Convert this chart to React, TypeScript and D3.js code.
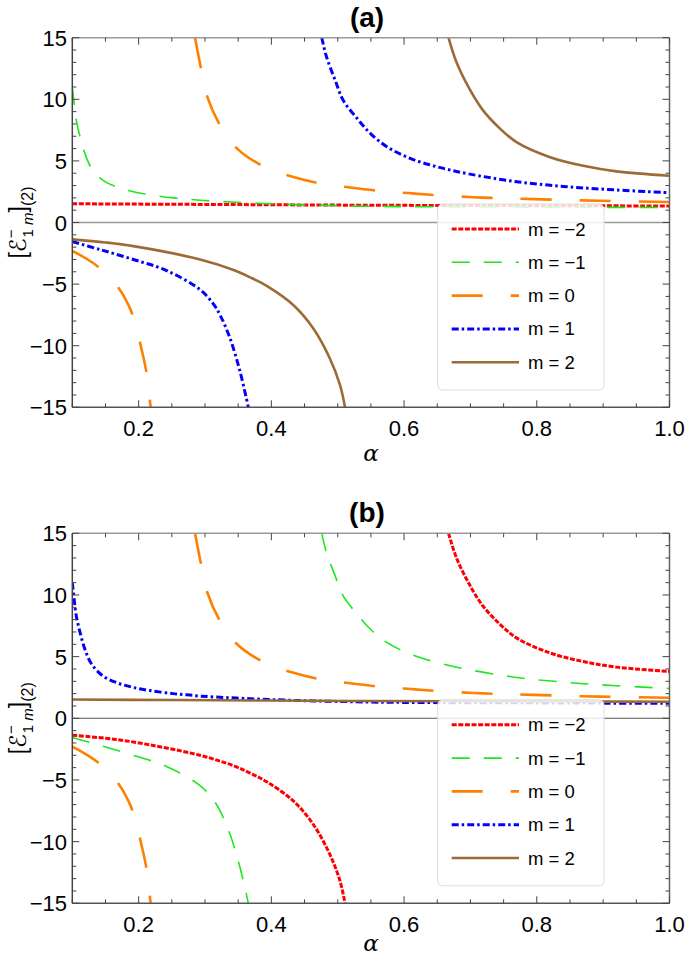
import React from "react";
import * as d3 from "d3";

// ---------- data ----------
// nearly flat curve
const alphaFlat = [0.1, 0.25, 0.4, 0.55, 0.7, 0.85, 1.0];
const valFlat = [1.52, 1.48, 1.44, 1.4, 1.38, 1.36, 1.34];

// steep curve with pole just left of alpha = 0.1
const alphaSteep = [0.1, 0.103, 0.106, 0.112, 0.119, 0.129, 0.147, 0.169, 0.192, 0.217, 0.252, 0.273, 0.293, 0.318, 0.348, 0.398, 0.448, 0.498, 0.549, 0.599, 0.7, 0.8, 0.9, 1.0];
const valSteep = [11.0, 9.55, 8.3, 6.9, 5.6, 4.4, 3.4, 2.85, 2.5, 2.25, 2.0, 1.9, 1.8, 1.72, 1.64, 1.52, 1.43, 1.37, 1.32, 1.29, 1.26, 1.25, 1.23, 1.22];

// m = 0 curve (orange), two branches
const alphaMidNeg = [0.1, 0.12, 0.139, 0.169, 0.191, 0.202, 0.212, 0.218];
const valMidNeg = [-2.3, -2.9, -3.59, -5.26, -7.5, -9.75, -12.24, -15];
const alphaMidPos = [0.285, 0.294, 0.3035, 0.323, 0.348, 0.387, 0.428, 0.473, 0.516, 0.564, 0.606, 0.652, 0.72, 0.795, 0.895, 1.0];
const valMidPos = [15, 12.5, 10.2, 7.86, 6.02, 4.59, 3.77, 3.18, 2.86, 2.56, 2.39, 2.2, 2.02, 1.9, 1.76, 1.67];

// curve with gap around alpha ~ 0.42
const alphaNearNeg = [0.1, 0.142, 0.192, 0.242, 0.2925, 0.3125, 0.3226, 0.3377, 0.3528, 0.3653];
const valNearNeg = [-1.55, -2.2, -3.0, -3.9, -5.45, -6.6, -7.5, -9.4, -12.1, -15];
const alphaNearPos = [0.476, 0.483, 0.496, 0.508, 0.529, 0.549, 0.574, 0.609, 0.649, 0.697, 0.77, 0.845, 0.92, 1.0];
const valNearPos = [15, 13.46, 11.57, 9.94, 8.46, 7.24, 6.15, 5.21, 4.53, 3.95, 3.31, 2.91, 2.64, 2.42];

// curve with gap around alpha ~ 0.59
const alphaFarNeg = [0.1, 0.15, 0.192, 0.2925, 0.343, 0.368, 0.393, 0.433, 0.463, 0.488, 0.5035, 0.511];
const valFarNeg = [-1.37, -1.62, -1.92, -3.0, -3.85, -4.45, -5.15, -6.7, -8.59, -11.02, -13.2, -15];
const alphaFarPos = [0.667, 0.679, 0.699, 0.719, 0.745, 0.77, 0.82, 0.87, 0.92, 1.0];
const valFarPos = [15, 13.0, 10.8, 9.1, 7.6, 6.5, 5.3, 4.6, 4.15, 3.8];

const mLabels = ["m = \u22122", "m = \u22121", "m = 0", "m = 1", "m = 2"];
const xTickValues = [0.2, 0.4, 0.6, 0.8, 1.0];
const xTickLabels = ["0.2", "0.4", "0.6", "0.8", "1.0"];
const yTickValues = [-15, -10, -5, 0, 5, 10, 15];
const yTickLabels = ["\u221215", "\u221210", "\u22125", "0", "5", "10", "15"];
const panelTitles = ["(a)", "(b)"];

type Branch = { a: number[]; v: number[] };
const curveFlat: Branch[] = [{ a: alphaFlat, v: valFlat }];
const curveSteep: Branch[] = [{ a: alphaSteep, v: valSteep }];
const curveMid: Branch[] = [{ a: alphaMidNeg, v: valMidNeg }, { a: alphaMidPos, v: valMidPos }];
const curveNear: Branch[] = [{ a: alphaNearNeg, v: valNearNeg }, { a: alphaNearPos, v: valNearPos }];
const curveFar: Branch[] = [{ a: alphaFarNeg, v: valFarNeg }, { a: alphaFarPos, v: valFarPos }];

// panel (a): m = -2..2 ; panel (b): m -> -m
const panelACurves = [curveFlat, curveSteep, curveMid, curveNear, curveFar];
const panelBCurves = [curveFar, curveNear, curveMid, curveSteep, curveFlat];

const styles = [
  { color: "#ff0000", width: 3, dash: "5,1.6" },
  { color: "#1ee61e", width: 1.6, dash: "18,14" },
  { color: "#ff8000", width: 2.6, dash: "31,28" },
  { color: "#0000ff", width: 3, dash: "7,3,2.5,3" },
  { color: "#9c6a35", width: 2.6, dash: "none" },
];

const FONT = "'Liberation Sans', Arial, sans-serif";
const LEFT = 72.3;
const RIGHT = 669.5;

type PanelProps = {
  top: number;
  bottom: number;
  curves: Branch[][];
  title: string;
  id: string;
  zeroColor: string;
  zeroWidth: number;
  alphaBaseline: number;
};

function Panel({ top, bottom, curves, title, id, zeroColor, zeroWidth, alphaBaseline }: PanelProps) {
  const x = d3.scaleLinear().domain([0.1, 1.0]).range([LEFT, RIGHT]);
  const y = d3.scaleLinear().domain([-15, 15]).range([bottom, top]);
  const line = d3
    .line<[number, number]>()
    .x((d) => x(d[0]))
    .y((d) => y(d[1]))
    .curve(d3.curveCatmullRom.alpha(0.5));

  const xMinor = d3.range(0.1, 1.0001, 0.05).map((v) => +v.toFixed(2));
  const yMinor = d3.range(-15, 15.001, 1);
  const isMajorX = (v: number) => Math.abs(v * 5 - Math.round(v * 5)) < 1e-6;
  const isMajorY = (v: number) => v % 5 === 0;

  const legTop = y(0) - 18.5;
  const rowY = (i: number) => legTop + 25 + i * 33.3;
  const tickColor = "#444";
  const cy = (top + bottom) / 2;

  return (
    <g>
      <defs>
        <clipPath id={id}>
          <rect x={LEFT} y={top} width={RIGHT - LEFT} height={bottom - top} />
        </clipPath>
      </defs>
      <text x={367} y={top - 11} textAnchor="middle" fontFamily={FONT} fontWeight="bold" fontSize={28} fill="#000">
        {title}
      </text>
      {/* zero line */}
      <line x1={LEFT} x2={RIGHT} y1={y(0)} y2={y(0)} stroke={zeroColor} strokeWidth={zeroWidth} />
      {/* curves */}
      <g clipPath={`url(#${id})`}>
        {curves.map((branches, i) =>
          branches.map((b, j) => (
            <path
              key={`${i}-${j}`}
              d={line(b.a.map((a, k) => [a, b.v[k]] as [number, number])) || ""}
              fill="none"
              stroke={styles[i].color}
              strokeWidth={styles[i].width}
              strokeDasharray={styles[i].dash}
            />
          ))
        )}
      </g>
      {/* frame */}
      <line x1={LEFT} x2={RIGHT} y1={top} y2={top} stroke="#999" strokeWidth={1.5} />
      <line x1={LEFT} x2={RIGHT} y1={bottom} y2={bottom} stroke="#555" strokeWidth={1.5} />
      <line x1={LEFT} x2={LEFT} y1={top} y2={bottom} stroke="#444" strokeWidth={1.5} />
      <line x1={RIGHT} x2={RIGHT} y1={top} y2={bottom} stroke="#666" strokeWidth={1.5} />
      {/* x ticks */}
      {xMinor.map((v, i) => {
        const len = isMajorX(v) ? 7 : 4;
        return (
          <g key={`xt${i}`}>
            <line x1={x(v)} x2={x(v)} y1={bottom} y2={bottom - len} stroke={tickColor} strokeWidth={1} />
            <line x1={x(v)} x2={x(v)} y1={top} y2={top + len} stroke={tickColor} strokeWidth={1} />
          </g>
        );
      })}
      {/* y ticks */}
      {yMinor.map((v, i) => {
        const len = isMajorY(v) ? 7 : 4;
        return (
          <g key={`yt${i}`}>
            <line x1={LEFT} x2={LEFT + len} y1={y(v)} y2={y(v)} stroke={tickColor} strokeWidth={1} />
            <line x1={RIGHT} x2={RIGHT - len} y1={y(v)} y2={y(v)} stroke={tickColor} strokeWidth={1} />
          </g>
        );
      })}
      {xTickValues.map((v, i) => (
        <text key={`xl${i}`} x={x(v)} y={bottom + 29} textAnchor="middle" fontFamily={FONT} fontSize={22} fill="#000">
          {xTickLabels[i]}
        </text>
      ))}
      {yTickValues.map((v, i) => (
        <text key={`yl${i}`} x={67} y={y(v) + 8} textAnchor="end" fontFamily={FONT} fontSize={22} fill="#000">
          {yTickLabels[i]}
        </text>
      ))}
      <text x={371} y={alphaBaseline} textAnchor="middle" fontFamily="'DejaVu Serif', serif" fontStyle="italic" fontSize={23} fill="#000">
        α
      </text>
      {/* y axis label */}
      <text transform={`translate(26,${cy}) rotate(-90)`} textAnchor="middle" fontFamily={FONT} fontSize={23} fill="#000">
        <tspan>[</tspan>
        <tspan fontFamily="'DejaVu Sans', sans-serif">ℰ</tspan>
        <tspan fontSize={15} dy={-10}>−</tspan>
        <tspan fontSize={15} dx={-8} dy={17}>1 </tspan>
        <tspan fontSize={15} fontStyle="italic">m</tspan>
        <tspan dy={-7}>]</tspan>
        <tspan fontSize={16} dy={7}>(2)</tspan>
      </text>
      {/* legend */}
      <rect x={437.7} y={legTop} width={166.3} height={186} rx={5} fill="#fff" fillOpacity={0.82} stroke="#dcdcdc" strokeWidth={1} />
      {mLabels.map((lab, i) => (
        <g key={`lg${i}`}>
          <line x1={451.7} x2={519} y1={rowY(i)} y2={rowY(i)} stroke={styles[i].color} strokeWidth={styles[i].width} strokeDasharray={styles[i].dash} />
          <text x={528} y={rowY(i) + 6.5} fontFamily={FONT} fontSize={18.5} fill="#000">
            {lab}
          </text>
        </g>
      ))}
    </g>
  );
}

export default function App() {
  return (
    <svg width={685} height={956} style={{ position: "absolute", left: 0, top: 0, background: "#fff" }}>
      <rect x={0} y={0} width={685} height={956} fill="#fff" />
      <Panel top={37.7} bottom={407.3} curves={panelACurves} title={panelTitles[0]} id="clipA" zeroColor="#999" zeroWidth={1.6} alphaBaseline={461} />
      <Panel top={533.3} bottom={903.3} curves={panelBCurves} title={panelTitles[1]} id="clipB" zeroColor="#555" zeroWidth={1.1} alphaBaseline={951} />
    </svg>
  );
}
